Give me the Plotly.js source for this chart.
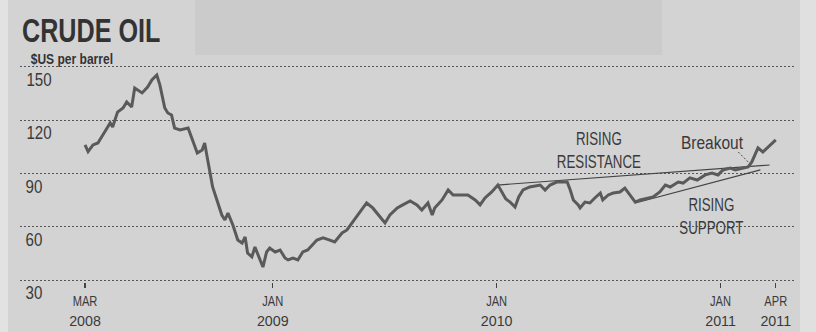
<!DOCTYPE html>
<html>
<head>
<meta charset="utf-8">
<script src="https://cdn.plot.ly/plotly-3.0.1.min.js"></script>
<style>
html,body{margin:0;padding:0;background:#d3d3d3;}
#chart{width:816px;height:332px;}
</style>
</head>
<body>
<div id="chart"></div>
<script>
// Weekly-ish crude oil prices, $US per barrel
const dates = [
'2008-03-01','2008-03-06','2008-03-14','2008-03-22','2008-03-30','2008-04-11','2008-04-15','2008-04-23',
'2008-05-02','2008-05-08','2008-05-16','2008-05-21','2008-06-02','2008-06-11','2008-06-18','2008-06-26',
'2008-07-01','2008-07-09','2008-07-14','2008-07-20','2008-07-25','2008-08-03','2008-08-16','2008-08-22',
'2008-08-31','2008-09-08','2008-09-12','2008-09-17','2008-09-25','2008-10-02','2008-10-10','2008-10-15',
'2008-10-20','2008-10-28','2008-11-05','2008-11-12','2008-11-17','2008-11-21','2008-11-28','2008-12-03',
'2008-12-11','2008-12-16','2008-12-22','2008-12-27','2009-01-05','2009-01-13','2009-01-21','2009-01-26',
'2009-02-03','2009-02-11','2009-02-19','2009-02-27','2009-03-14','2009-03-24','2009-04-04','2009-04-12',
'2009-04-24','2009-05-02','2009-05-10','2009-05-23','2009-06-03','2009-06-13','2009-06-25','2009-07-03',
'2009-07-11','2009-07-23','2009-08-01','2009-08-13','2009-08-24','2009-09-01','2009-09-11','2009-09-18',
'2009-09-22','2009-10-04','2009-10-14','2009-10-22','2009-11-04','2009-11-15','2009-11-27','2009-12-05',
'2009-12-13','2009-12-24','2010-01-03','2010-01-10','2010-01-16','2010-01-23','2010-01-31','2010-02-06',
'2010-02-13','2010-02-24','2010-03-13','2010-03-21','2010-03-29','2010-04-09','2010-04-19','2010-04-26',
'2010-05-01','2010-05-06','2010-05-14','2010-05-17','2010-05-25','2010-06-02','2010-06-10','2010-06-19',
'2010-06-23','2010-07-02','2010-07-10','2010-07-21','2010-07-29','2010-08-06','2010-08-15','2010-08-23',
'2010-09-03','2010-09-13','2010-09-24','2010-10-03','2010-10-11','2010-10-16','2010-10-24','2010-11-01',
'2010-11-12','2010-11-24','2010-12-07','2010-12-18','2010-12-28','2011-01-05','2011-01-17','2011-01-25',
'2011-02-05','2011-02-15','2011-02-21','2011-02-26','2011-03-03','2011-03-11','2011-03-19','2011-04-01'
];
const prices = [
106.1,102.3,106.1,107.2,111.7,118.5,116.2,124.6,
126.9,130.3,127.5,138.2,135.4,138.7,142.7,145.5,
139.9,126.9,124.1,123.0,115.6,114.5,115.6,110.0,
101.5,103.2,107.2,97.6,82.4,75.1,66.6,63.8,
67.7,61.0,52.5,50.8,54.2,45.2,43.0,48.6,
41.3,37.3,45.8,48.0,45.8,46.9,42.4,41.3,
42.4,41.3,45.8,46.9,52.5,53.7,52.5,51.4,
56.5,58.2,62.1,68.3,73.4,70.6,65.5,62.1,
66.6,70.6,72.3,74.5,72.3,69.4,73.4,66.6,
70.6,75.1,80.7,77.9,77.9,77.9,75.1,72.3,
76.2,79.6,83.5,79.6,75.6,73.9,71.1,76.8,
80.7,82.4,83.5,80.7,83.5,85.2,85.2,85.2,
80.7,75.1,72.3,70.6,73.9,73.4,76.2,79.0,
75.1,77.9,79.0,79.6,81.8,77.9,73.9,75.1,
76.2,76.8,79.6,83.5,82.4,83.5,85.2,84.6,
87.5,86.3,89.2,90.3,89.2,92.0,93.1,92.0,
93.1,93.7,96.5,100.4,104.4,102.1,104.9,108.9
];
// Trend lines
const resistanceDates = ['2010-01-02','2011-03-22'];
const resistanceValues = [83.5, 94.8];
const supportDates = ['2010-08-15','2011-03-07'];
const supportValues = [73.4, 92.0];
// Breakout pointer
const breakoutDates = ['2011-01-30','2011-02-15'];
const breakoutValues = [102.1, 96.5];

// Axes
const xTickDates = ['2008-03-01','2009-01-01','2010-01-01','2011-01-01','2011-04-01'];
const xTickLabels = ['MAR<br>2008','JAN<br>2009','JAN<br>2010','JAN<br>2011','APR<br>2011'];
const yTickValues = [30,60,90,120,150];
const yTickLabels = ['30','60','90','120','150'];

const FONT = '"Liberation Sans",Arial,sans-serif';
const INK = '#3a3a3a';

const traces = [
  {x: resistanceDates, y: resistanceValues, mode:'lines', line:{color:'#444', width:1.2}, hoverinfo:'skip'},
  {x: supportDates, y: supportValues, mode:'lines', line:{color:'#444', width:1.2}, hoverinfo:'skip'},
  {x: breakoutDates, y: breakoutValues, mode:'lines', line:{color:'#444', width:1, dash:'2px,2px'}, hoverinfo:'skip'},
  {x: dates, y: prices, mode:'lines', line:{color:'#5a5a5a', width:3}, hoverinfo:'x+y'}
];

const yLabelAnnotations = yTickValues.map((v, i) => ({
  text: yTickLabels[i], xref:'paper', yref:'y', x: 2/776, y: v, xanchor:'left', yanchor:'middle',
  yshift:-13, showarrow:false, font:{family:FONT, size:18, color:INK}
}));

const layout = {
  width: 816, height: 332,
  paper_bgcolor:'#d3d3d3', plot_bgcolor:'rgba(0,0,0,0)',
  margin:{l:20, r:20, t:60, b:50},
  showlegend:false,
  title:{text:'CRUDE OIL', x:22/816, xanchor:'left', xref:'container', y:1-18/332, yanchor:'top', yref:'container',
         font:{family:FONT, size:34, color:'#333', weight:'bold'}},
  xaxis:{type:'date', range:['2007-11-16','2011-05-04'], showgrid:false, zeroline:false, showline:false,
         tickmode:'array', tickvals:xTickDates, ticktext:xTickLabels,
         ticks:'outside', ticklen:5, tickwidth:1.2, tickcolor:'#444',
         tickfont:{family:FONT, size:15, color:INK}},
  yaxis:{range:[30 - 2/1.775, 153.94], showgrid:true, gridcolor:'#555', gridwidth:1, griddash:'2px,2px',
         zeroline:false, showline:false, tickmode:'array', tickvals:yTickValues, showticklabels:false, ticks:''},
  shapes:[
    {type:'rect', xref:'paper', yref:'paper', x0:-20/776, x1:-12/776, y0:-60/222, y1:1+60/222, fillcolor:'rgba(255,255,255,0.35)', line:{width:0}, layer:'below'},
    {type:'rect', xref:'paper', yref:'paper', x0:(800-20)/776, x1:(816-20)/776, y0:-60/222, y1:1+60/222, fillcolor:'rgba(255,255,255,0.3)', line:{width:0}, layer:'below'},
    {type:'rect', xref:'paper', yref:'paper', x0:(195-20)/776, x1:(662-20)/776, y0:1+5/222, y1:1+60/222, fillcolor:'rgba(0,0,0,0.035)', line:{width:0}, layer:'below'}
  ],
  annotations:[
    {text:'$US per barrel', xref:'paper', yref:'paper', x:2/776, y:1-9/222, xanchor:'left', yanchor:'bottom', showarrow:false,
     font:{family:FONT, size:14, color:'#333', weight:'bold'}},
    {text:'RISING<br>RESISTANCE', x:'2010-06-17', y:102.7, xref:'x', yref:'y', showarrow:false,
     font:{family:FONT, size:18, color:INK}},
    {text:'Breakout', x:'2010-12-18', y:107.2, xref:'x', yref:'y', showarrow:false,
     font:{family:FONT, size:18, color:INK}},
    {text:'RISING<br>SUPPORT', x:'2010-12-17', y:65.8, xref:'x', yref:'y', showarrow:false,
     font:{family:FONT, size:18, color:INK}}
  ].concat(yLabelAnnotations)
};

// Narrow the (regular-width) installed font to mimic the newspaper's condensed face
function condense(){
  document.querySelectorAll('#chart svg text').forEach(t => {
    const inXTick = !!t.closest('.xtick');
    const lines = t.querySelectorAll('tspan.line');
    const targets = lines.length ? Array.from(lines) : [t];
    targets.forEach(el => {
      const s = el.textContent.trim();
      if (!s) return;
      const len = el.getComputedTextLength();
      if (!len) return;
      let r;
      if (/^[0-9]+$/.test(s)) r = inXTick ? 0.95 : 0.84;
      else if (s === s.toUpperCase()) r = 0.74;
      else r = 0.86;
      el.setAttribute('textLength', (len * r).toFixed(1));
      el.setAttribute('lengthAdjust', 'spacingAndGlyphs');
    });
  });
}

Plotly.newPlot('chart', traces, layout, {displayModeBar:false, staticPlot:true}).then(condense);
</script>
</body>
</html>
